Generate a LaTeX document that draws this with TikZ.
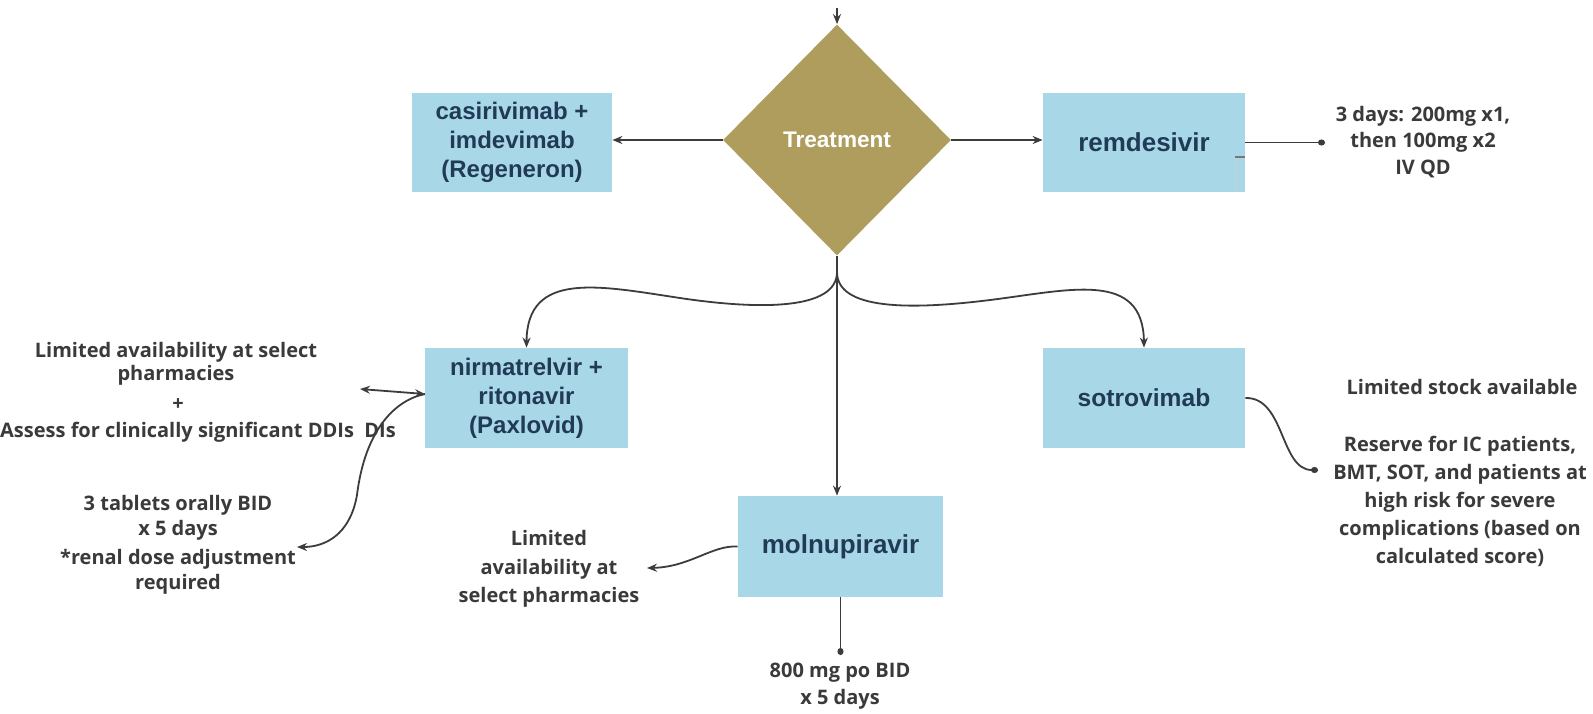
\documentclass[tikz,border=0pt]{standalone}
\usepackage{fontspec}
\setmainfont{Liberation Sans}
\newfontfamily\sidefont{Open Sans}
\usetikzlibrary{shapes.geometric,arrows.meta}
\definecolor{boxblue}{HTML}{A8D8E8}
\definecolor{treatgold}{HTML}{AF9D5D}
\definecolor{boxtext}{HTML}{213A56}
\definecolor{sidetext}{HTML}{3A3A3A}
\definecolor{linecol}{HTML}{3C3C3C}
\begin{document}
\begin{tikzpicture}[x=0.5pt,y=-0.5pt,
  drug/.style={rectangle,fill=boxblue,text=boxtext,font=\bfseries\fontsize{12}{14.5}\selectfont,align=center,inner sep=0pt},
  note/.style={text=sidetext,font=\sidefont\bfseries\fontsize{10}{13.5}\selectfont,align=center,inner sep=0pt},
  conn/.style={draw=linecol,line width=0.9pt},
  arr/.style={conn,-{Stealth[length=5pt,width=4pt]}},
  dblarr/.style={conn,{Stealth[length=5pt,width=4pt]}-{Stealth[length=5pt,width=4pt]}},
  dotarr/.style={conn,-{Circle[length=3.5pt,width=3pt]}},
]
\useasboundingbox[fill=white] (0,0) rectangle (1593,713);

% main nodes
\node[diamond,fill=treatgold,text=white,font=\bfseries\fontsize{11.3}{13}\selectfont,
      minimum width=114pt,minimum height=115.5pt,inner sep=0pt] (diam) at (837,140) {Treatment};
\node[drug,minimum width=100pt,minimum height=49.5pt] (casi) at (512,142.5) {casirivimab +\\imdevimab\\(Regeneron)};
\node[drug,font=\bfseries\fontsize{13}{15}\selectfont,minimum width=101pt,minimum height=49.5pt] (remd) at (1144,142.5) {remdesivir};
\node[drug,minimum width=101.5pt,minimum height=50pt] (nirm) at (526.5,398) {nirmatrelvir +\\ritonavir\\(Paxlovid)};
\node[drug,font=\bfseries\fontsize{12.3}{15}\selectfont,minimum width=101pt,minimum height=50pt] (sotro) at (1144,398) {sotrovimab};
\node[drug,font=\bfseries\fontsize{13}{15}\selectfont,minimum width=102.5pt,minimum height=50.5pt] (molnu) at (840.5,546.5) {molnupiravir};

% small mark on remdesivir box
\draw[linecol!70,line width=0.6pt] (1235,157) -- (1245,157);
\draw[linecol!25,line width=0.5pt] (1236,158) -- (1236,192);

% notes
\node[note,font=\sidefont\bfseries\fontsize{10}{13.25}\selectfont] (remdnote) at (1423,142) {3 days: 200mg x1,\\then 100mg x2\\IV QD};
\node[note] (avail) at (176,363.5) {Limited availability at select\\[-2pt]pharmacies};
\node[note] (plus) at (178,405) {+};
\node[note] (assess) at (198,432) {Assess for clinically significant DDIs\ \ DIs};
\node[note] (dose) at (178,545) {3 tablets orally BID\\[-1pt]x 5 days\\[1pt]*renal dose adjustment\\[-1pt]required};
\node[note,font=\sidefont\bfseries\fontsize{10}{14.25}\selectfont] (molnote) at (549,569) {Limited\\availability at\\select pharmacies};
\node[note] (molbot) at (840,686.5) {800 mg po BID\\x 5 days};
\node[note] (stock) at (1462,387) {Limited stock available};
\node[note,font=\sidefont\bfseries\fontsize{10}{14}\selectfont] (reserve) at (1460,501) {Reserve for IC patients,\\BMT, SOT, and patients at\\high risk for severe\\complications (based on\\calculated score)};

% free ends
\coordinate (top) at (837,8);
\coordinate (br) at (837,272);
\coordinate (remdend) at (1325,142.5);
\coordinate (nl) at (360,389);
\coordinate (nll) at (297,547);
\coordinate (mlt) at (647,568);
\coordinate (mb) at (840.5,655);
\coordinate (send) at (1318,470);
\coordinate (nw) at (425,394);

% connectors
\draw[arr] (top) -- (diam.north);
\draw[arr] (diam.west) -- (diam.west -| casi.east);
\draw[arr] (diam.east) -- (diam.east -| remd.west);
\draw[conn] (diam.south) -- (br);
\draw[arr] (br) -- (br |- molnu.north);
\draw[arr] (br) .. controls (837,310) and (760,310) .. (680,298)
               .. controls (600,286) and (527,270) .. (nirm.north);
\draw[arr] (br) .. controls (837,310) and (910,310) .. (990,300)
               .. controls (1070,290) and (1143,270) .. (sotro.north);
\draw[dotarr] (remd.east) -- (remdend);
\draw[dblarr] (nw) -- (nl);
\draw[arr] (nw) .. controls (395,400) and (365,430) .. (357,495)
               .. controls (350,535) and (325,547) .. (nll);
\draw[arr] (molnu.west) .. controls (712,545) and (690,567) .. (mlt);
\draw[dotarr] (molnu.south) -- (mb);
\draw[dotarr] (sotro.east) .. controls (1285,397) and (1280,470) .. (send);
\end{tikzpicture}
\end{document}
